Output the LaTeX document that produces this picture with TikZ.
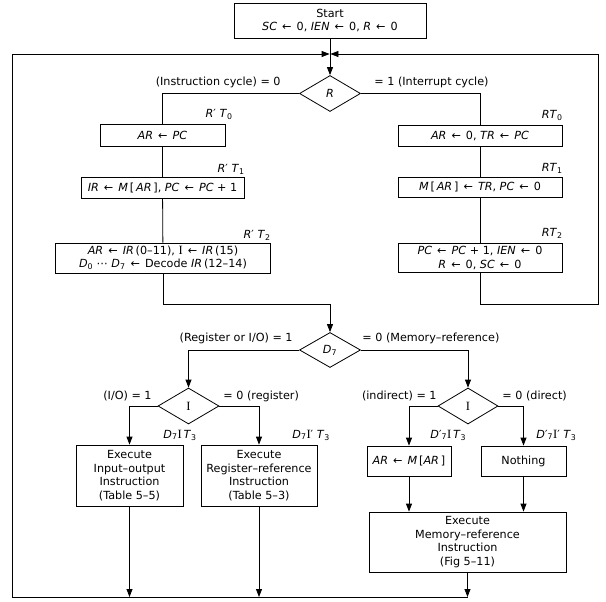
\documentclass[tikz,border=0pt]{standalone}
\usepackage{fontspec}
\setmainfont{DejaVu Sans}
\newfontfamily\serifI{Liberation Serif}
\usetikzlibrary{shapes.geometric,arrows.meta}
\newcommand{\myit}[1]{\textit{#1}}
\newcommand{\bigI}{{\serifI\fontsize{12.6}{13}\selectfont I}}
\newcommand{\sbs}[1]{\textsubscript{#1}}
\newcommand{\myla}{\hspace{1.5pt}←\hspace{1.5pt}}
\begin{document}
\begin{tikzpicture}[x=1pt,y=-1pt, line width=0.8pt,
  every node/.style={font=\fontsize{11.2}{13.5}\selectfont},
  box/.style={draw, rectangle, inner sep=0pt, align=center},
  dia/.style={draw, diamond, inner sep=0pt, minimum width=61pt, minimum height=36pt},
  lab/.style={inner sep=0pt, font=\fontsize{11.2}{13}\selectfont},
  arr/.style={-{Triangle[length=8pt,width=6pt]}}]
\useasboundingbox (0,0) rectangle (606,602);

% nodes
\node[box, minimum width=192pt, minimum height=35pt] (start) at (330,20.5)
  {Start\\\myit{SC} \myla{} 0, \myit{IEN} \myla{} 0, \myit{R} \myla{} 0};
\node[dia] (R) at (330,93.5) {\myit{R}};

\node[box, minimum width=125pt, minimum height=22pt] (b1) at (162.5,135) {\myit{AR} \myla{} \myit{PC}};
\node[box, minimum width=163pt, minimum height=21pt] (b2) at (162.5,187.5)
  {\myit{IR} \myla{} \myit{M}\,[\,\myit{AR}\,], \myit{PC} \myla{} \myit{PC} + 1};
\node[box, minimum width=215pt, minimum height=30pt] (b3) at (163,258)
  {\myit{AR} \myla{} \myit{IR}\,(0–11), \bigI{} \myla{} \myit{IR}\,(15)\\\myit{D}\sbs{0} ⋯ \myit{D}\sbs{7} \myla{} Decode \myit{IR}\,(12–14)};

\node[box, minimum width=164pt, minimum height=21pt] (c1) at (480,135.5) {\myit{AR} \myla{} 0, \myit{TR} \myla{} \myit{PC}};
\node[box, minimum width=164pt, minimum height=20pt] (c2) at (480,187)
  {\myit{M}\,[\,\myit{AR}\,] \myla{} \myit{TR}, \myit{PC} \myla{} 0};
\node[box, minimum width=164pt, minimum height=29pt] (c3) at (480,258)
  {\myit{PC} \myla{} \myit{PC} + 1, \myit{IEN} \myla{} 0\\\myit{R} \myla{} 0, \myit{SC} \myla{} 0};

\node[dia, minimum height=35pt] (D7) at (330,350) {\myit{D}\sbs{7}};
\node[dia] (I1) at (188.5,406) {\bigI};
\node[dia, minimum width=60pt] (I2) at (468,406) {\bigI};

\node[box, minimum width=107pt, minimum height=61pt] (e1) at (129.5,475.5)
  {Execute\\Input–output\\Instruction\\(Table 5–5)};
\node[box, minimum width=116pt, minimum height=61pt] (e2) at (259,475.5)
  {Execute\\Register–reference\\Instruction\\(Table 5–3)};
\node[box, minimum width=84pt, minimum height=30pt] (f1) at (409,461) {\myit{AR} \myla{} \myit{M}\,[\myit{AR}\,]};
\node[box, minimum width=85pt, minimum height=30pt] (f2) at (523.5,461) {Nothing};
\node[box, minimum width=197pt, minimum height=60pt] (g) at (467.5,542)
  {Execute\\Memory–reference\\Instruction\\(Fig 5–11)};

% labels
\node[lab, anchor=east] (l1) at (281,82) {(Instruction cycle) = 0};
\node[lab, anchor=west] (l2) at (374,82) {= 1 (Interrupt cycle)};
\node[lab, anchor=east] (t0) at (233,114) {\myit{R}′ \myit{T}\sbs{0}};
\node[lab, anchor=east] (t1) at (245,169) {\myit{R}′ \myit{T}\sbs{1}};
\node[lab, anchor=east] (t2) at (271,235) {\myit{R}′ \myit{T}\sbs{2}};
\node[lab, anchor=east] (u0) at (563,115) {\myit{RT}\sbs{0}};
\node[lab, anchor=east] (u1) at (563,168) {\myit{RT}\sbs{1}};
\node[lab, anchor=east] (u2) at (563,233) {\myit{RT}\sbs{2}};
\node[lab, anchor=east] (l3) at (293,338) {(Register or I/O) = 1};
\node[lab, anchor=west] (l4) at (362,338) {= 0 (Memory–reference)};
\node[lab, anchor=east] (l5) at (152,396) {(I/O) = 1};
\node[lab, anchor=west] (l6) at (223,396) {= 0 (register)};
\node[lab, anchor=east] (l7) at (437,396) {(indirect) = 1};
\node[lab, anchor=west] (l8) at (502,396) {= 0 (direct)};
\node[lab, anchor=west] (s1) at (163,435) {\myit{D}\sbs{7}\bigI\,\myit{T}\sbs{3}};
\node[lab, anchor=west] (s2) at (292,435) {\myit{D}\sbs{7}\bigI′ \myit{T}\sbs{3}};
\node[lab, anchor=west] (s3) at (430,435) {\myit{D}′\sbs{7}\bigI\,\myit{T}\sbs{3}};
\node[lab, anchor=west] (s4) at (536,435) {\myit{D}′\sbs{7}\bigI′ \myit{T}\sbs{3}};

% coordinates
\coordinate (lb) at (12,597);
\coordinate (lt) at (12,54);
\coordinate (jl) at (329.6,54);
\coordinate (jr) at (330.4,54);
\coordinate (rt) at (598,54);
\coordinate (rb) at (598,304);
\coordinate (mj) at (330,304);

% connectors
\draw[arr] (start.south) -- (R.north);
\draw (R.west) -| (b1.north);
\draw (b1) -- (b2);
\draw (b2) -- (b3);
\draw[arr] (b3.south) |- (mj) -- (D7.north);
\draw (R.east) -| (c1.north);
\draw (c1) -- (c2);
\draw (c2) -- (c3);
\draw[arr] (c3.south) |- (rb) -- (rt) -- (jr);
\draw[arr] (g.south |- lb) -- (lb) -- (lt) -- (jl);

\draw[arr] (D7.west) -| (I1.north);
\draw[arr] (D7.east) -| (I2.north);
\draw[arr] (I1.west) -| (e1.north);
\draw[arr] (I1.east) -| (e2.north);
\draw[arr] (I2.west) -| (f1.north);
\draw[arr] (I2.east) -| (f2.north);
\draw[arr] (f1.south) -- (f1.south |- g.north);
\draw[arr] (f2.south) -- (f2.south |- g.north);
\draw[arr] (e1.south) -- (e1.south |- lb);
\draw[arr] (e2.south) -- (e2.south |- lb);
\draw[arr] (g.south) -- (g.south |- lb);
\end{tikzpicture}
\end{document}
